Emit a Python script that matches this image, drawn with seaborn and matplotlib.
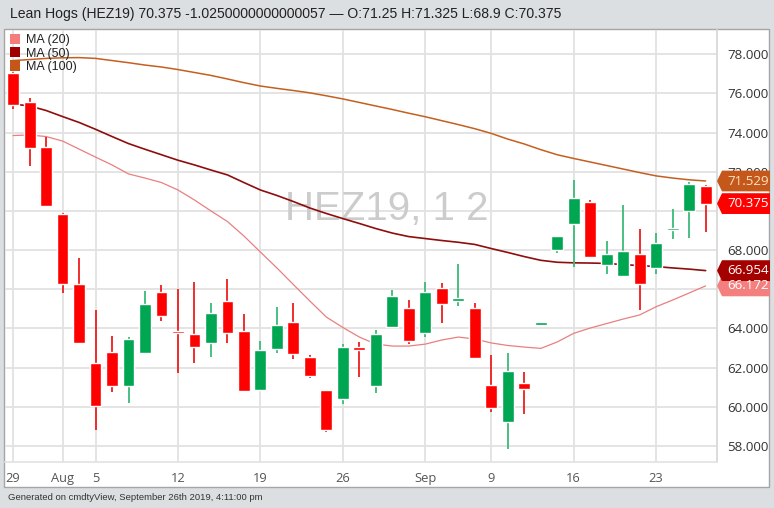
import matplotlib
matplotlib.use("Agg")
import matplotlib.pyplot as plt
import matplotlib.transforms as mtransforms
from matplotlib.patches import Patch, Polygon, Rectangle
import numpy as np
import pandas as pd
import seaborn as sns

# trading days shown (Labor Day, Sep 2, is missing)
days = [d for d in pd.bdate_range("2019-07-29", "2019-09-26") if d != pd.Timestamp("2019-09-02")]

opens = [77.06, 75.55, 73.28, 69.86, 66.27, 62.25, 62.78, 61.07, 62.76, 65.86,
         63.80, 63.72, 63.26, 65.40, 63.85, 60.86, 62.93, 64.33, 62.56, 60.84,
         60.40, 63.07, 61.06, 64.07, 65.04, 63.78, 66.08, 65.42, 65.04, 61.11,
         59.24, 61.23, 64.20, 67.99, 69.33, 70.44, 67.25, 66.68, 67.82, 67.10,
         69.02, 69.98, 71.25]
highs = [77.10, 75.75, 73.76, 69.90, 67.58, 64.94, 63.61, 63.55, 65.93, 66.22,
         66.00, 66.39, 65.31, 66.52, 64.74, 63.36, 65.11, 65.28, 62.64, 60.84,
         63.19, 63.29, 63.92, 65.96, 65.47, 66.37, 66.30, 67.27, 65.28, 62.64,
         62.76, 61.76, 64.22, 68.70, 71.58, 70.56, 68.48, 70.30, 69.06, 68.86,
         70.08, 71.49, 71.325]
lows = [75.19, 72.31, 70.20, 65.79, 63.25, 58.81, 60.74, 60.21, 62.76, 64.39,
        61.71, 62.25, 62.56, 63.24, 60.80, 60.86, 62.76, 62.45, 61.45, 58.69,
        60.12, 61.53, 60.72, 64.07, 63.20, 63.58, 64.26, 65.16, 62.49, 59.75,
        57.83, 59.61, 64.20, 67.84, 67.15, 67.66, 66.76, 66.68, 64.96, 66.76,
        68.55, 68.60, 68.90]
closes = [75.41, 73.23, 70.25, 66.25, 63.27, 60.05, 61.06, 63.46, 65.26, 64.65,
          63.75, 63.04, 64.79, 63.75, 60.80, 62.90, 64.19, 62.68, 61.57, 58.80,
          63.05, 62.90, 63.72, 65.66, 63.37, 65.84, 65.23, 65.48, 62.49, 59.95,
          61.81, 60.89, 64.22, 68.70, 70.66, 67.66, 67.79, 67.95, 66.25, 68.38,
          69.10, 71.38, 70.375]

ma20 = [73.85, 73.88, 73.80, 73.57, 73.16, 72.75, 72.35, 71.89, 71.68, 71.45,
        71.07, 70.56, 70.00, 69.46, 68.72, 67.90, 67.09, 66.24, 65.40, 64.58,
        64.05, 63.56, 63.20, 63.10, 63.10, 63.20, 63.41, 63.56, 63.46, 63.26,
        63.13, 63.05, 62.98, 63.31, 63.75, 64.02, 64.25, 64.48, 64.69, 65.11,
        65.45, 65.81, 66.172]
ma50 = [75.46, 75.36, 75.13, 74.82, 74.52, 74.17, 73.80, 73.44, 73.15, 72.87,
        72.59, 72.35, 72.09, 71.84, 71.45, 71.07, 70.79, 70.48, 70.15, 69.87,
        69.61, 69.36, 69.10, 68.87, 68.69, 68.59, 68.49, 68.40, 68.29, 68.08,
        67.88, 67.67, 67.48, 67.38, 67.35, 67.34, 67.32, 67.26, 67.21, 67.16,
        67.09, 67.03, 66.954]
ma100 = [77.68, 77.73, 77.79, 77.82, 77.83, 77.79, 77.68, 77.57, 77.45, 77.35,
         77.22, 77.07, 76.92, 76.74, 76.55, 76.38, 76.26, 76.15, 76.03, 75.88,
         75.72, 75.54, 75.36, 75.18, 74.99, 74.81, 74.61, 74.41, 74.20, 73.96,
         73.67, 73.42, 73.13, 72.87, 72.68, 72.50, 72.32, 72.14, 71.96, 71.79,
         71.68, 71.59, 71.529]

tick_dates = ["2019-07-29", "2019-08-01", "2019-08-05", "2019-08-12", "2019-08-19",
              "2019-08-26", "2019-09-03", "2019-09-09", "2019-09-16", "2019-09-23"]
tick_labels = ["29", "Aug", "5", "12", "19", "26", "Sep", "9", "16", "23"]
price_ticks = [58, 60, 62, 64, 66, 68, 70, 72, 74, 76, 78]
hidden_ticks = [66, 70]  # fully covered by the price tags

title = "Lean Hogs (HEZ19) 70.375 -1.0250000000000057 \u2014 O:71.25 H:71.325 L:68.9 C:70.375"
footer = "Generated on cmdtyView, September 26th 2019, 4:11:00 pm"

UP, DOWN = "#00a651", "#ff0000"
C20, C50, C100 = "#e8807f", "#8e0d0d", "#c45f1f"

sns.set_style("white")
plt.rcParams["font.family"] = ["Liberation Sans", "DejaVu Sans"]

fig = plt.figure(figsize=(7.74, 5.08), dpi=100, facecolor="#dcdfe2")
W, H = 774, 508
fig.patches.append(Rectangle((4 / W, 21 / H), 765 / W, 458 / H, transform=fig.transFigure,
                             facecolor="white", edgecolor="#a5a5a5", lw=1, zorder=-5))
ax = fig.add_axes([5 / W, 46 / H, 712 / W, 432 / H])
ax.set_zorder(2)
ax.set_facecolor("none")

x = np.arange(len(days))
o, h, l, c = map(np.array, (opens, highs, lows, closes))
up = c >= o

# moving averages
for vals, col, lw in [(ma100, C100, 1.1), (ma50, C50, 1.2), (ma20, C20, 0.9)]:
    sns.lineplot(x=x, y=vals, color=col, linewidth=lw, ax=ax, zorder=2)

# candles
wick_cols = np.where(up, "#3dba78", "#ee1c1c")
ax.vlines(x, l, h, colors=wick_cols, linewidth=1.3, zorder=3)
body_lo = np.minimum(o, c)
body_h = np.maximum(np.abs(c - o), 0.12)
ax.bar(x, body_h, bottom=body_lo, width=0.72, color=np.where(up, UP, DOWN), zorder=4)

ax.set_xlim(-0.49, 42.69)
ax.set_ylim(57.18, 79.24)

ax.set_yticks(price_ticks)
ax.set_yticklabels(["" if v in hidden_ticks else f"{v:.3f}" for v in price_ticks])
ax.yaxis.tick_right()
ax.tick_params(axis="y", length=0, pad=7.5, labelsize=9.6, labelcolor="#333333",
               labelfontfamily="Open Sans")
pos = [days.index(pd.Timestamp(d)) for d in tick_dates]
ax.set_xticks(pos)
ax.set_xticklabels(tick_labels)
ax.tick_params(axis="x", length=4, width=1.2, color="#d6d6d6", pad=3, labelsize=9.3,
               labelcolor="#555555", labelfontfamily="Open Sans")
ax.grid(True, color="#e2e2e2", linewidth=1.3, zorder=0)
ax.set_axisbelow(True)
for s in ["top", "left"]:
    ax.spines[s].set_visible(False)
ax.spines["right"].set_color("#d6d6d6")
ax.spines["bottom"].set_color("#e2e2e2")
ax.spines["right"].set_linewidth(1.2)
ax.spines["bottom"].set_linewidth(1.2)

# watermark
ax.text(0.5365, 0.586, "HEZ19, 1 2", transform=ax.transAxes, ha="center", va="center",
        fontsize=29, color="#cccccc", zorder=1)

# legend
handles = [Patch(facecolor=C, edgecolor="none", label=t) for C, t in
           [("#f47c7c", "MA (20)"), ("#a00000", "MA (50)"), ("#c4561a", "MA (100)")]]
ax.legend(handles=handles, loc="upper left", bbox_to_anchor=(0.007, 0.991), frameon=False,
          fontsize=9, handlelength=0.8, handleheight=0.9, handletextpad=0.45,
          labelspacing=0.05, borderpad=0, borderaxespad=0, labelcolor="#222222")

# price tags on the right axis
trans = mtransforms.blended_transform_factory(ax.transAxes, ax.transData)
x0, x1, x2 = 1.0, 1.0 + 5 / 712, (770 - 5) / 712
for val, fc, tc in [(ma20[-1], "#f47f7f", "white"), (ma50[-1], "#a50000", "white"),
                    (ma100[-1], "#c4581a", "#ffe2c4"), (closes[-1], "#ff0000", "white")]:
    hh = 0.53
    poly = Polygon([(x0, val), (x1, val + hh), (x2, val + hh), (x2, val - hh), (x1, val - hh)],
                   closed=True, transform=trans, facecolor=fc, edgecolor="none",
                   clip_on=False, zorder=10)
    ax.add_patch(poly)
    ax.text(1.0 + 10 / 712, val, f"{val:.3f}", transform=trans, ha="left", va="center",
            fontsize=9.6, color=tc, family="Open Sans", clip_on=False, zorder=11)

fig.text(10 / W, 1 - 14 / H, title, ha="left", va="center", fontsize=10.1, color="#222222")
fig.text(8 / W, 1 - 497 / H, footer, ha="left", va="center", fontsize=6.8, color="#333333")

fig.savefig("out.png", dpi=100, facecolor=fig.get_facecolor())
